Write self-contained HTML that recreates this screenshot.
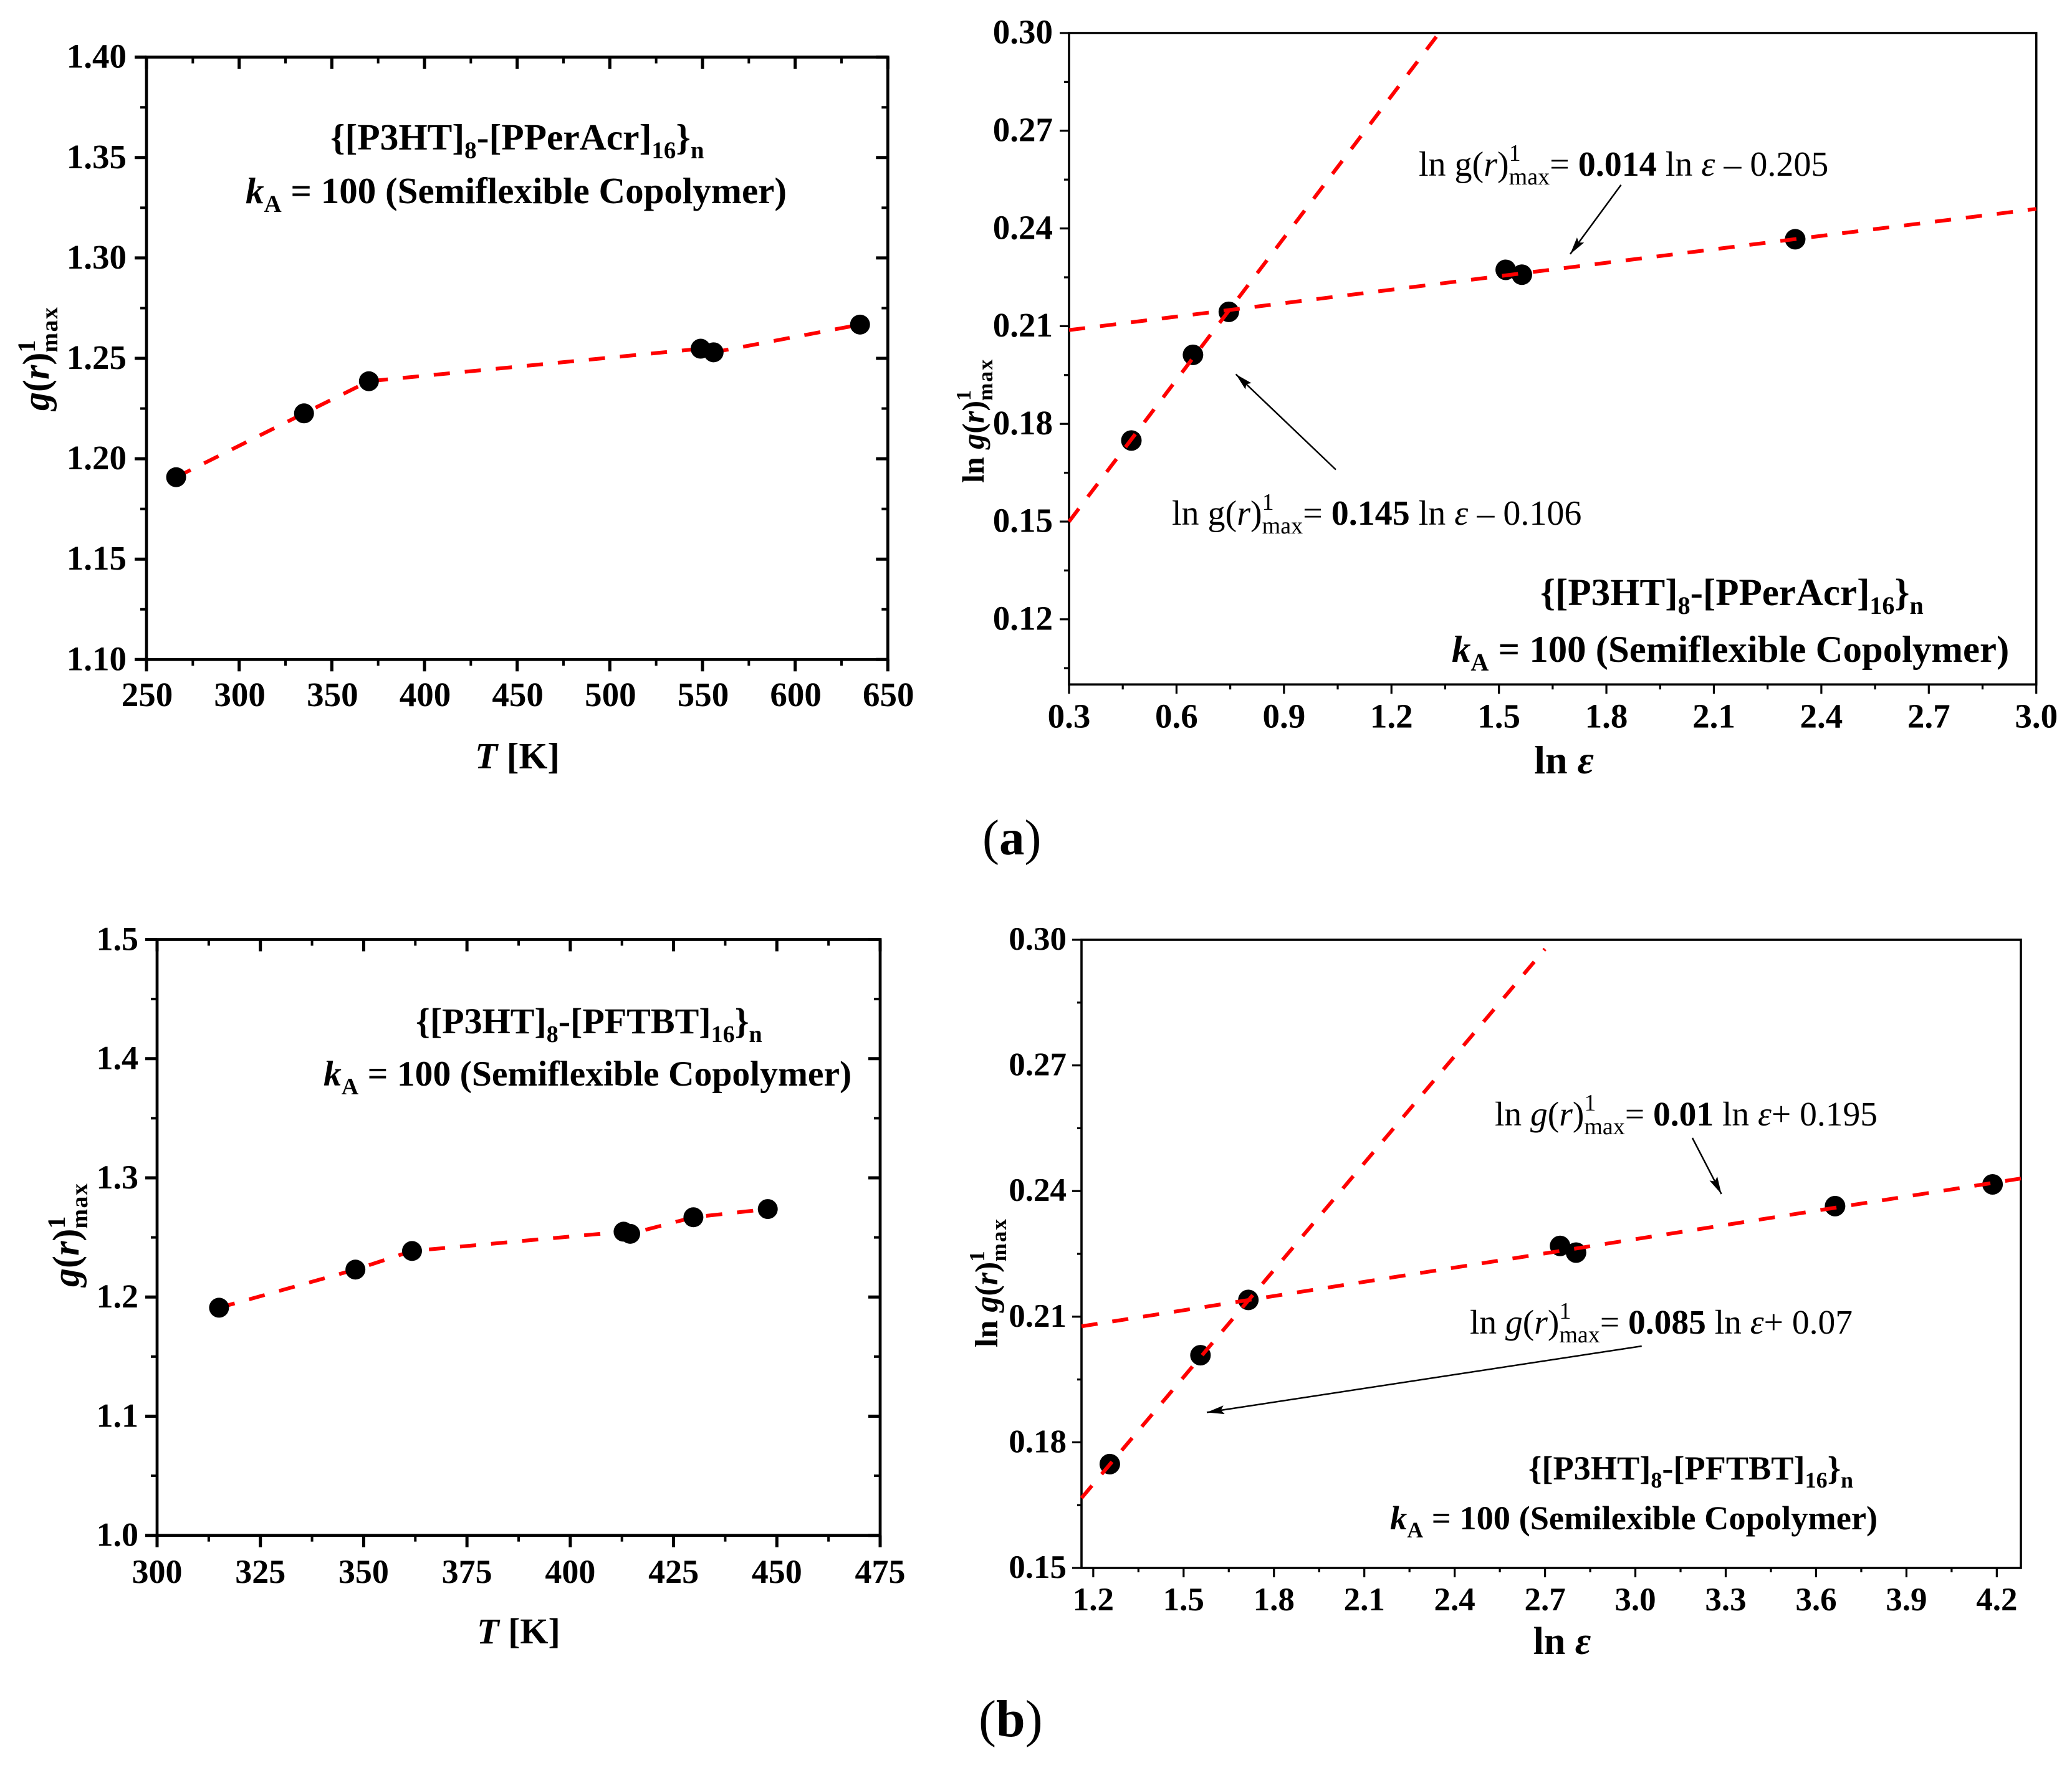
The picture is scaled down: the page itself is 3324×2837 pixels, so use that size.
<!DOCTYPE html>
<html lang="en">
<head>
<meta charset="utf-8">
<title>g(r) max versus T and ln epsilon</title>
<style>
html,body{margin:0;padding:0;background:#fff;}
svg{display:block;}
text{font-family:"Liberation Serif","DejaVu Serif",serif;fill:#000;}
.b{font-weight:bold;}
.i{font-style:italic;}
</style>
</head>
<body>
<svg id="figure" xmlns="http://www.w3.org/2000/svg" width="3324" height="2837" viewBox="0 0 3324 2837">
<defs>
<marker id="arrow-head" markerUnits="userSpaceOnUse" markerWidth="30" markerHeight="16" refX="28" refY="7" orient="auto">
<path d="M0,0 L28,7 L0,14 L5,7 z" fill="#000"/>
</marker>
</defs>
<rect x="0" y="0" width="3324" height="2837" fill="#fff"/>
<g id="plots"></g>

<!-- panel a left -->
<text class="b" x="830" y="1233" font-size="59" text-anchor="middle"><tspan class="i">T</tspan> [K]</text>
<text class="b" transform="translate(78,659) rotate(-90)" font-size="60"><tspan class="i">g</tspan>(<tspan class="i">r</tspan>)<tspan font-size="40" dy="-22">1</tspan><tspan font-size="38" dx="-20" dy="36" letter-spacing="1.5">max</tspan></text>
<text class="b" x="530" y="240" font-size="59.5">{[P3HT]<tspan font-size="39" dy="14">8</tspan><tspan dy="-14">-[PPerAcr]</tspan><tspan font-size="39" dy="14">16</tspan><tspan dy="-14">}</tspan><tspan font-size="39" dy="14">n</tspan></text>
<text class="b" x="394" y="326" font-size="59"><tspan class="i">k</tspan><tspan font-size="39" dy="14">A</tspan><tspan dy="-14"> = 100 (Semiflexible Copolymer)</tspan></text>

<!-- panel a right -->
<text class="b" x="2509" y="1241" font-size="64" text-anchor="middle">ln <tspan class="i">ε</tspan></text>
<text class="b" transform="translate(1578,775) rotate(-90)" font-size="50">ln <tspan class="i">g</tspan>(<tspan class="i">r</tspan>)<tspan font-size="34" dy="-21">1</tspan><tspan font-size="34" dx="-17" dy="35" letter-spacing="2">max</tspan></text>
<text x="2276" y="282" font-size="56">ln g(<tspan class="i">r</tspan>)<tspan font-size="38" dy="-24">1</tspan><tspan font-size="38" dx="-19" dy="38">max</tspan><tspan dy="-14">= </tspan><tspan class="b">0.014</tspan> ln <tspan class="i">ε</tspan> – 0.205</text>
<text x="1880" y="842" font-size="56">ln g(<tspan class="i">r</tspan>)<tspan font-size="38" dy="-24">1</tspan><tspan font-size="38" dx="-19" dy="38">max</tspan><tspan dy="-14">= </tspan><tspan class="b">0.145</tspan> ln <tspan class="i">ε</tspan> – 0.106</text>
<line x1="2600.5" y1="296.7" x2="2519" y2="407.7" stroke="#000" stroke-width="2.5" marker-end="url(#arrow-head)"/>
<line x1="2143" y1="753.6" x2="1982.6" y2="600.5" stroke="#000" stroke-width="2.5" marker-end="url(#arrow-head)"/>
<text class="b" x="2471" y="971" font-size="61">{[P3HT]<tspan font-size="40" dy="14">8</tspan><tspan dy="-14">-[PPerAcr]</tspan><tspan font-size="40" dy="14">16</tspan><tspan dy="-14">}</tspan><tspan font-size="40" dy="14">n</tspan></text>
<text class="b" x="2329" y="1062" font-size="60.8"><tspan class="i">k</tspan><tspan font-size="40" dy="14">A</tspan><tspan dy="-14"> = 100 (Semiflexible Copolymer)</tspan></text>
<text x="1576" y="1371" font-size="81">(<tspan class="b">a</tspan>)</text>

<!-- panel b left -->
<text class="b" x="832" y="2637" font-size="58" text-anchor="middle"><tspan class="i">T</tspan> [K]</text>
<text class="b" transform="translate(126,2065) rotate(-90)" font-size="60"><tspan class="i">g</tspan>(<tspan class="i">r</tspan>)<tspan font-size="40" dy="-22">1</tspan><tspan font-size="38" dx="-20" dy="36" letter-spacing="1.5">max</tspan></text>
<text class="b" x="667" y="1658" font-size="58">{[P3HT]<tspan font-size="38" dy="14">8</tspan><tspan dy="-14">-[PFTBT]</tspan><tspan font-size="38" dy="14">16</tspan><tspan dy="-14">}</tspan><tspan font-size="38" dy="14">n</tspan></text>
<text class="b" x="519" y="1742" font-size="57.6"><tspan class="i">k</tspan><tspan font-size="38" dy="14">A</tspan><tspan dy="-14"> = 100 (Semiflexible Copolymer)</tspan></text>

<!-- panel b right -->
<text class="b" x="2506" y="2654" font-size="62" text-anchor="middle">ln <tspan class="i">ε</tspan></text>
<text class="b" transform="translate(1600,2162) rotate(-90)" font-size="52">ln <tspan class="i">g</tspan>(<tspan class="i">r</tspan>)<tspan font-size="35" dy="-21">1</tspan><tspan font-size="35" dx="-17" dy="35" letter-spacing="2">max</tspan></text>
<text x="2398" y="1806" font-size="55.5">ln <tspan class="i">g</tspan>(<tspan class="i">r</tspan>)<tspan font-size="38" dy="-24">1</tspan><tspan font-size="38" dx="-19" dy="38">max</tspan><tspan dy="-14">= </tspan><tspan class="b">0.01</tspan> ln <tspan class="i">ε</tspan>+ 0.195</text>
<text x="2358" y="2140" font-size="55.5">ln <tspan class="i">g</tspan>(<tspan class="i">r</tspan>)<tspan font-size="38" dy="-24">1</tspan><tspan font-size="38" dx="-19" dy="38">max</tspan><tspan dy="-14">= </tspan><tspan class="b">0.085</tspan> ln <tspan class="i">ε</tspan>+ 0.07</text>
<line x1="2715" y1="1826" x2="2761.6" y2="1916" stroke="#000" stroke-width="2.5" marker-end="url(#arrow-head)"/>
<line x1="2633.7" y1="2160" x2="1936" y2="2266.4" stroke="#000" stroke-width="2.5" marker-end="url(#arrow-head)"/>
<text class="b" x="2452" y="2374" font-size="54.3">{[P3HT]<tspan font-size="36" dy="13">8</tspan><tspan dy="-13">-[PFTBT]</tspan><tspan font-size="36" dy="13">16</tspan><tspan dy="-13">}</tspan><tspan font-size="36" dy="13">n</tspan></text>
<text class="b" x="2230" y="2454" font-size="54.4"><tspan class="i">k</tspan><tspan font-size="36" dy="13">A</tspan><tspan dy="-13"> = 100 (Semilexible Copolymer)</tspan></text>
<text x="1570" y="2786" font-size="84">(<tspan class="b">b</tspan>)</text>
</svg>
<script>
// Panel a, left: g(r) vs T
const a1XDomain = [250, 650];
const a1YDomain = [1.10, 1.40];
const a1XTickLabels = ['250','300','350','400','450','500','550','600','650'];
const a1YTickLabels = ['1.10','1.15','1.20','1.25','1.30','1.35','1.40'];
const a1Temperature = [266, 335, 370, 549, 556, 635];
const a1Gmax = [1.1908, 1.2226, 1.2386, 1.2548, 1.2530, 1.2668];

// Panel a, right: ln g(r) vs ln epsilon
const a2XDomain = [0.3, 3.0];
const a2YDomain = [0.10, 0.30];
const a2XTickLabels = ['0.3','0.6','0.9','1.2','1.5','1.8','2.1','2.4','2.7','3.0'];
const a2YTickLabels = ['0.12','0.15','0.18','0.21','0.24','0.27','0.30'];
const a2LnEps = [0.474, 0.646, 0.746, 1.519, 1.564, 2.327];
const a2LnG = [0.1749, 0.2012, 0.2144, 0.2273, 0.2258, 0.2367];
const a2SteepFitX = [0.30, 1.333];
const a2SteepFitY = [0.150, 0.300];
const a2ShallowFitX = [0.30, 3.00];
const a2ShallowFitY = [0.2088, 0.2460];

// Panel b, left: g(r) vs T
const b1XDomain = [300, 475];
const b1YDomain = [1.0, 1.5];
const b1XTickLabels = ['300','325','350','375','400','425','450','475'];
const b1YTickLabels = ['1.0','1.1','1.2','1.3','1.4','1.5'];
const b1Temperature = [315.0, 348.0, 361.7, 412.9, 414.5, 429.8, 447.8];
const b1Gmax = [1.191, 1.223, 1.2386, 1.2548, 1.2530, 1.2669, 1.2738];

// Panel b, right: ln g(r) vs ln epsilon
const b2XDomain = [1.161, 4.28];
const b2YDomain = [0.15, 0.30];
const b2XTickLabels = ['1.2','1.5','1.8','2.1','2.4','2.7','3.0','3.3','3.6','3.9','4.2'];
const b2YTickLabels = ['0.15','0.18','0.21','0.24','0.27','0.30'];
const b2LnEps = [1.255, 1.556, 1.715, 2.75, 2.803, 3.663, 4.186];
const b2LnG = [0.1748, 0.2008, 0.2140, 0.2269, 0.2253, 0.2364, 0.2416];
const b2SteepFitX = [1.161, 2.70];
const b2SteepFitY = [0.1667, 0.2978];
const b2ShallowFitX = [1.161, 4.28];
const b2ShallowFitY = [0.2077, 0.2430];

const SVG_NS = 'http://www.w3.org/2000/svg';
const plots = document.getElementById('plots');

function make(tag, attrs) {
  const el = document.createElementNS(SVG_NS, tag);
  for (const k in attrs) el.setAttribute(k, attrs[k]);
  plots.appendChild(el);
  return el;
}

function linearScale(domain, r0, r1) {
  return function (v) {
    return r0 + (v - domain[0]) / (domain[1] - domain[0]) * (r1 - r0);
  };
}

function minorValues(values, domain) {
  const step = values[1] - values[0];
  const out = [];
  values.forEach(function (v) { out.push(v - step / 2); });
  out.push(values[values.length - 1] + step / 2);
  return out.filter(function (v) {
    return v > Math.min(domain[0], domain[1]) + 1e-9 && v < Math.max(domain[0], domain[1]) - 1e-9;
  });
}

function drawAxes(frame, xDomain, yDomain, xLabels, yLabels) {
  const sx = linearScale(xDomain, frame.left, frame.right);
  const sy = linearScale(yDomain, frame.bottom, frame.top);

  const box = make('rect', {
    x: frame.left, y: frame.top,
    width: frame.right - frame.left, height: frame.bottom - frame.top,
    fill: 'none', stroke: '#000', 'stroke-width': frame.axisWidth
  });
  
  

  const xMajor = xLabels.map(Number);
  const yMajor = yLabels.map(Number);
  const xMinor = minorValues(xMajor, xDomain);
  const yMinor = minorValues(yMajor, yDomain);

  xMajor.forEach(function (v, i) {
    const px = sx(v);
    const tick = make('line', { x1: px, y1: frame.bottom, x2: px, y2: frame.bottom + frame.majorLen, stroke: '#000', 'stroke-width': frame.majorWidth });
    
    
    if (frame.mirror) {
      const top = make('line', { x1: px, y1: frame.top, x2: px, y2: frame.top + frame.majorLen, stroke: '#000', 'stroke-width': frame.majorWidth });
      
      
    }
    const label = make('text', { x: px + frame.xLabelShift, y: frame.xLabelBaseline, 'font-size': frame.labelSize, 'font-weight': 'bold', 'text-anchor': 'middle' });
    label.textContent = xLabels[i];
    
    
  });

  xMinor.forEach(function (v) {
    const px = sx(v);
    const tick = make('line', { x1: px, y1: frame.bottom, x2: px, y2: frame.bottom + frame.minorLen, stroke: '#000', 'stroke-width': frame.minorWidth });
    
    
    if (frame.mirror) {
      const top = make('line', { x1: px, y1: frame.top, x2: px, y2: frame.top + frame.minorLen, stroke: '#000', 'stroke-width': frame.minorWidth });
      
      
    }
  });

  yMajor.forEach(function (v, i) {
    const py = sy(v);
    const tick = make('line', { x1: frame.left - frame.majorLen, y1: py, x2: frame.left, y2: py, stroke: '#000', 'stroke-width': frame.majorWidth });
    
    
    if (frame.mirror) {
      const right = make('line', { x1: frame.right - frame.majorLen, y1: py, x2: frame.right, y2: py, stroke: '#000', 'stroke-width': frame.majorWidth });
      
      
    }
    const label = make('text', { x: frame.yLabelRight, y: py + frame.yLabelDrop, 'font-size': frame.labelSize, 'font-weight': 'bold', 'text-anchor': 'end' });
    label.textContent = yLabels[i];
    
    
  });

  yMinor.forEach(function (v) {
    const py = sy(v);
    const tick = make('line', { x1: frame.left - frame.minorLen, y1: py, x2: frame.left, y2: py, stroke: '#000', 'stroke-width': frame.minorWidth });
    
    
    if (frame.mirror) {
      const right = make('line', { x1: frame.right - frame.minorLen, y1: py, x2: frame.right, y2: py, stroke: '#000', 'stroke-width': frame.minorWidth });
      
      
    }
  });

  return { sx: sx, sy: sy };
}

function drawDashed(scales, xs, ys) {
  const pts = xs.map(function (x, i) { return scales.sx(x) + ',' + scales.sy(ys[i]); }).join(' ');
  const line = make('polyline', { points: pts, fill: 'none', stroke: '#ff0000', 'stroke-width': 6, 'stroke-dasharray': '26 24' });
  
  
}

function drawPoints(scales, xs, ys, radius) {
  xs.forEach(function (x, i) {
    const dot = make('circle', { cx: scales.sx(x), cy: scales.sy(ys[i]), r: radius, fill: '#000' });
    
    
  });
}

const frameA1 = { left: 235, right: 1424.3, top: 91.7, bottom: 1058.3, axisWidth: 4.7, majorLen: 19, minorLen: 10, majorWidth: 5, minorWidth: 4, mirror: true, labelSize: 55, xLabelBaseline: 1133, xLabelShift: 1, yLabelRight: 203, yLabelDrop: 17 };
const frameA2 = { left: 1715, right: 3266.7, top: 53, bottom: 1098.3, axisWidth: 3.6, majorLen: 15, minorLen: 8, majorWidth: 3.2, minorWidth: 3.2, mirror: false, labelSize: 55, xLabelBaseline: 1167.7, xLabelShift: 0, yLabelRight: 1689, yLabelDrop: 16.7 };
const frameB1 = { left: 252, right: 1412, top: 1507.5, bottom: 2463.7, axisWidth: 4.7, majorLen: 19, minorLen: 10, majorWidth: 5, minorWidth: 4, mirror: true, labelSize: 54, xLabelBaseline: 2540, xLabelShift: 0, yLabelRight: 222, yLabelDrop: 17 };
const frameB2 = { left: 1735, right: 3242, top: 1508, bottom: 2516, axisWidth: 3.6, majorLen: 15, minorLen: 7, majorWidth: 3.2, minorWidth: 3.2, mirror: false, labelSize: 53, xLabelBaseline: 2584, xLabelShift: 0, yLabelRight: 1711, yLabelDrop: 16 };

const scalesA1 = drawAxes(frameA1, a1XDomain, a1YDomain, a1XTickLabels, a1YTickLabels);
drawDashed(scalesA1, a1Temperature, a1Gmax);
drawPoints(scalesA1, a1Temperature, a1Gmax, 16);

const scalesA2 = drawAxes(frameA2, a2XDomain, a2YDomain, a2XTickLabels, a2YTickLabels);
drawPoints(scalesA2, a2LnEps, a2LnG, 16.5);
drawDashed(scalesA2, a2SteepFitX, a2SteepFitY);
drawDashed(scalesA2, a2ShallowFitX, a2ShallowFitY);

const scalesB1 = drawAxes(frameB1, b1XDomain, b1YDomain, b1XTickLabels, b1YTickLabels);
drawDashed(scalesB1, b1Temperature, b1Gmax);
drawPoints(scalesB1, b1Temperature, b1Gmax, 16);

const scalesB2 = drawAxes(frameB2, b2XDomain, b2YDomain, b2XTickLabels, b2YTickLabels);
drawPoints(scalesB2, b2LnEps, b2LnG, 16.5);
drawDashed(scalesB2, b2SteepFitX, b2SteepFitY);
drawDashed(scalesB2, b2ShallowFitX, b2ShallowFitY);
</script>
</body>
</html>
